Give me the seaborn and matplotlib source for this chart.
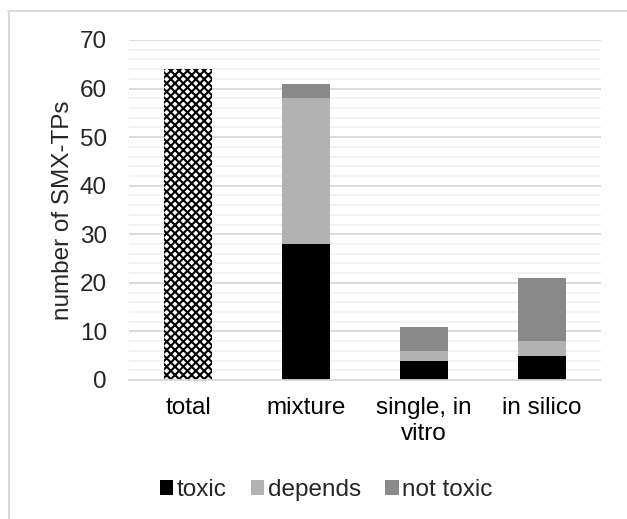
import matplotlib
matplotlib.use("Agg")
import matplotlib.pyplot as plt
from matplotlib.patches import Patch
from matplotlib.lines import Line2D
from matplotlib.ticker import MultipleLocator, FixedLocator
import seaborn as sns
import pandas as pd
import numpy as np

categories = ["total", "mixture", "single, in\nvitro", "in silico"]
total = [64, 0, 0, 0]
toxic = [0, 28, 4, 5]
depends = [0, 30, 2, 3]
not_toxic = [0, 3, 5, 13]

c_toxic = "#000000"
c_depends = "#B2B2B2"
c_not = "#898989"
FS = 17.5

sns.set_theme(style="white")
plt.rcParams["font.family"] = ["Liberation Sans", "DejaVu Sans"]
plt.rcParams["hatch.linewidth"] = 1.5

df = pd.DataFrame({
    "category": categories,
    "total": total,
    "toxic": toxic,
    "depends": depends,
    "not_toxic": not_toxic,
})
df["cum_depends"] = df["toxic"] + df["depends"]
df["cum_not"] = df["cum_depends"] + df["not_toxic"]

fig = plt.figure(figsize=(6.27, 5.19), dpi=100)
ax = fig.add_axes([129 / 627, 1 - 380 / 519, 472 / 627, 340 / 519])

# total bar (hatched)
sns.barplot(data=df, x="category", y="total", color="white", width=0.4,
            ax=ax, order=categories, saturation=1, zorder=3)
n = len(categories)
for p in ax.patches[:n]:
    p.set_facecolor("white")
    p.set_hatch("xxxx")
    p.set_edgecolor("black")
    p.set_linewidth(0)

sns.barplot(data=df, x="category", y="cum_not", color=c_not, width=0.4,
            ax=ax, order=categories, saturation=1, zorder=3,
            edgecolor="none", linewidth=0)
sns.barplot(data=df, x="category", y="cum_depends", color=c_depends, width=0.4,
            ax=ax, order=categories, saturation=1, zorder=3,
            edgecolor="none", linewidth=0)
sns.barplot(data=df, x="category", y="toxic", color=c_toxic, width=0.4,
            ax=ax, order=categories, saturation=1, zorder=3,
            edgecolor="none", linewidth=0)

ax.set_xlim(-0.5, n - 0.5)
ax.set_ylim(0, 70)
ax.yaxis.set_major_locator(MultipleLocator(10))
ax.yaxis.set_minor_locator(MultipleLocator(2))
ax.grid(False)
ax.grid(axis="y", which="major", color="#D9D9D9", linewidth=1.3, zorder=0)
ax.grid(axis="y", which="minor", color="#F2F2F2", linewidth=1.3, zorder=0)
ax.set_axisbelow(True)

for s in ["top", "right", "left"]:
    ax.spines[s].set_visible(False)
ax.spines["bottom"].set_color("#D9D9D9")
ax.spines["bottom"].set_linewidth(1.3)
ax.spines["bottom"].set_zorder(4)

ax.xaxis.set_minor_locator(FixedLocator(np.arange(-0.5, n, 1.0)))
ax.tick_params(axis="x", which="major", length=0, pad=12, labelsize=FS, colors="#000000")
ax.tick_params(axis="x", which="minor", length=7, width=1.3, color="#D9D9D9", direction="out")
ax.tick_params(axis="y", which="both", length=0, pad=16, labelsize=FS)
for lab in ax.get_xticklabels():
    lab.set_linespacing(1.25)

ax.set_xlabel("")
ax.set_ylabel("number of SMX-TPs", fontsize=FS, labelpad=4)

handles = [Patch(facecolor=c_toxic, edgecolor="none"),
           Patch(facecolor=c_depends, edgecolor="none"),
           Patch(facecolor=c_not, edgecolor="none")]
fig.legend(handles, ["toxic", "depends", "not toxic"], loc="center",
           bbox_to_anchor=(0.52, 1 - 490 / 519), ncol=3, frameon=False,
           fontsize=FS, handlelength=0.55, handleheight=0.55,
           handletextpad=0.15, columnspacing=1.0)

# chart-area border (top and left)
fig.add_artist(Line2D([8 / 627, 1.0], [1 - 11 / 519, 1 - 11 / 519],
                      transform=fig.transFigure, color="#D9D9D9", linewidth=1.5))
fig.add_artist(Line2D([9 / 627, 9 / 627], [0.0, 1 - 11 / 519],
                      transform=fig.transFigure, color="#D9D9D9", linewidth=1.5))

fig.savefig("out.png", dpi=100, facecolor="white")
